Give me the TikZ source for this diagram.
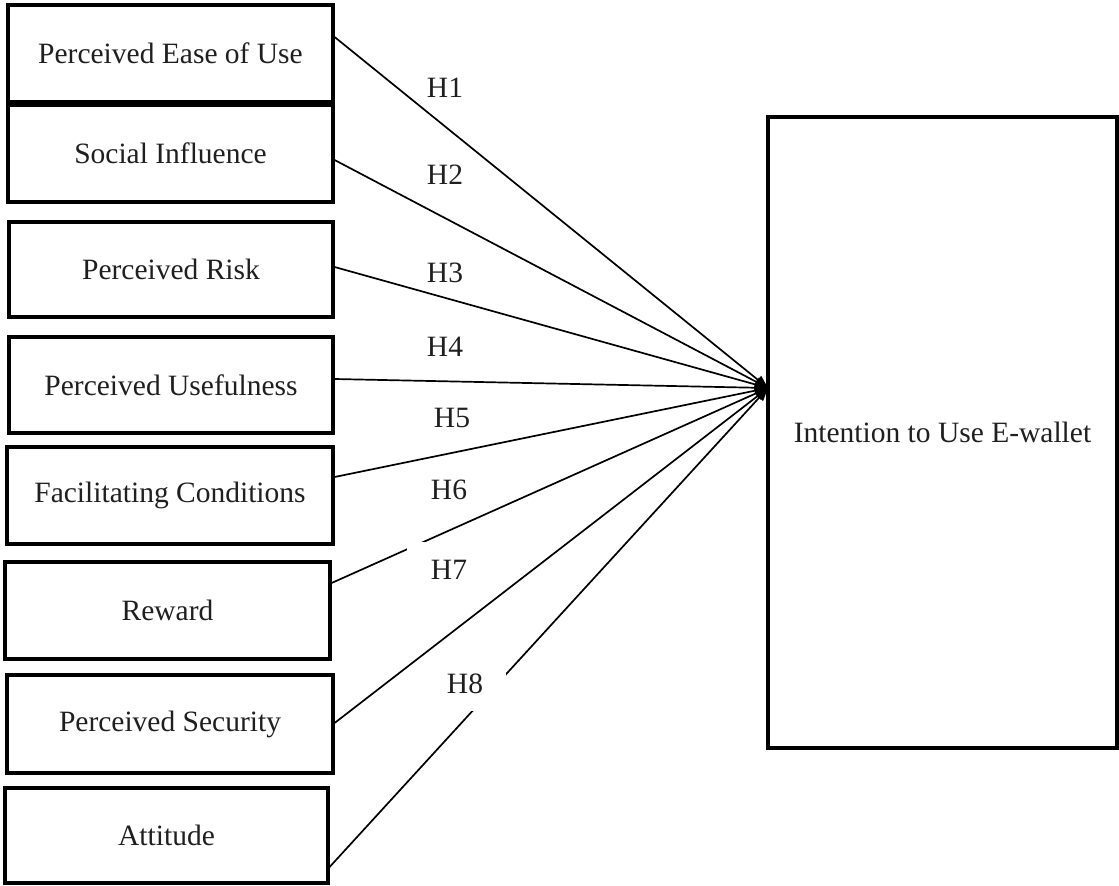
\documentclass[tikz,border=0pt]{standalone}
\usepackage{fontspec}
\setmainfont{Liberation Serif}
\usetikzlibrary{arrows.meta}
\tikzset{
  factor/.style={draw=black, line width=3.2pt, inner sep=0pt, minimum width=325pt, minimum height=97pt,
    font=\fontsize{29.5}{34}\selectfont, text=black!88},
  outcome/.style={draw=black, line width=3.2pt, inner sep=0pt, minimum width=349pt, minimum height=631pt,
    font=\fontsize{29.5}{34}\selectfont, text=black!88},
  conn/.style={line width=1.7pt, -{Triangle[length=13pt,width=10pt]}},
  hlab/.style={inner sep=0pt, font=\fontsize{29.5}{34}\selectfont, text=black!88},
  hlabfill/.style={hlab, fill=white, minimum width=84pt, minimum height=56pt}
}
\begin{document}
\begin{tikzpicture}[x=1pt,y=-1pt]
\useasboundingbox (0,0) rectangle (1119,886);
% factor boxes
\node[factor] (b1) at (170.5,53.5) {Perceived Ease of Use};
\node[factor] (b2) at (170.5,153.5) {Social Influence};
\node[factor, minimum width=324pt, minimum height=95pt] (b3) at (171,269.5) {Perceived Risk};
\node[factor, minimum width=324pt, minimum height=96pt] (b4) at (171,385) {Perceived Usefulness};
\node[factor, minimum width=326pt] (b5) at (170,495.5) {Facilitating Conditions};
\node[factor] (b6) at (167.5,610.5) {Reward};
\node[factor, minimum width=326pt, minimum height=98pt] (b7) at (170,724) {Perceived Security};
\node[factor, minimum width=323pt, minimum height=95pt] (b8) at (166.5,835.5) {Attitude};
% outcome box
\node[outcome] (ite) at (942.5,432.5) {Intention to Use E-wallet};
\coordinate (tip) at (768,388);
% connectors
\draw[conn] ([yshift=16.5pt]b1.east) -- (tip);
\draw[conn] ([yshift=-6.5pt]b2.east) -- (tip);
\draw[conn] ([yshift=2.5pt]b3.east) -- (tip);
\draw[conn] ([yshift=6pt]b4.east) -- (tip);
\draw[conn] ([yshift=18.5pt]b5.east) -- (tip);
\draw[conn] ([yshift=27.5pt]b6.east) -- (tip);
\draw[conn] ([yshift=1pt]b7.east) -- (tip);
\draw[conn] ([yshift=-31.5pt]b8.east) -- (tip);
% hypothesis labels
\node[hlab] (h1) at (445,88) {H1};
\node[hlab] (h2) at (445,175) {H2};
\node[hlab] (h3) at (445,273) {H3};
\node[hlab] (h4) at (445,347) {H4};
\node[hlab] (h5) at (452,418) {H5};
\node[hlab] (h6) at (449,490) {H6};
\node[hlabfill] (h7) at (449,570) {H7};
\node[hlabfill, minimum width=82pt, minimum height=54pt] (h8) at (465,684) {H8};
\end{tikzpicture}
\end{document}
